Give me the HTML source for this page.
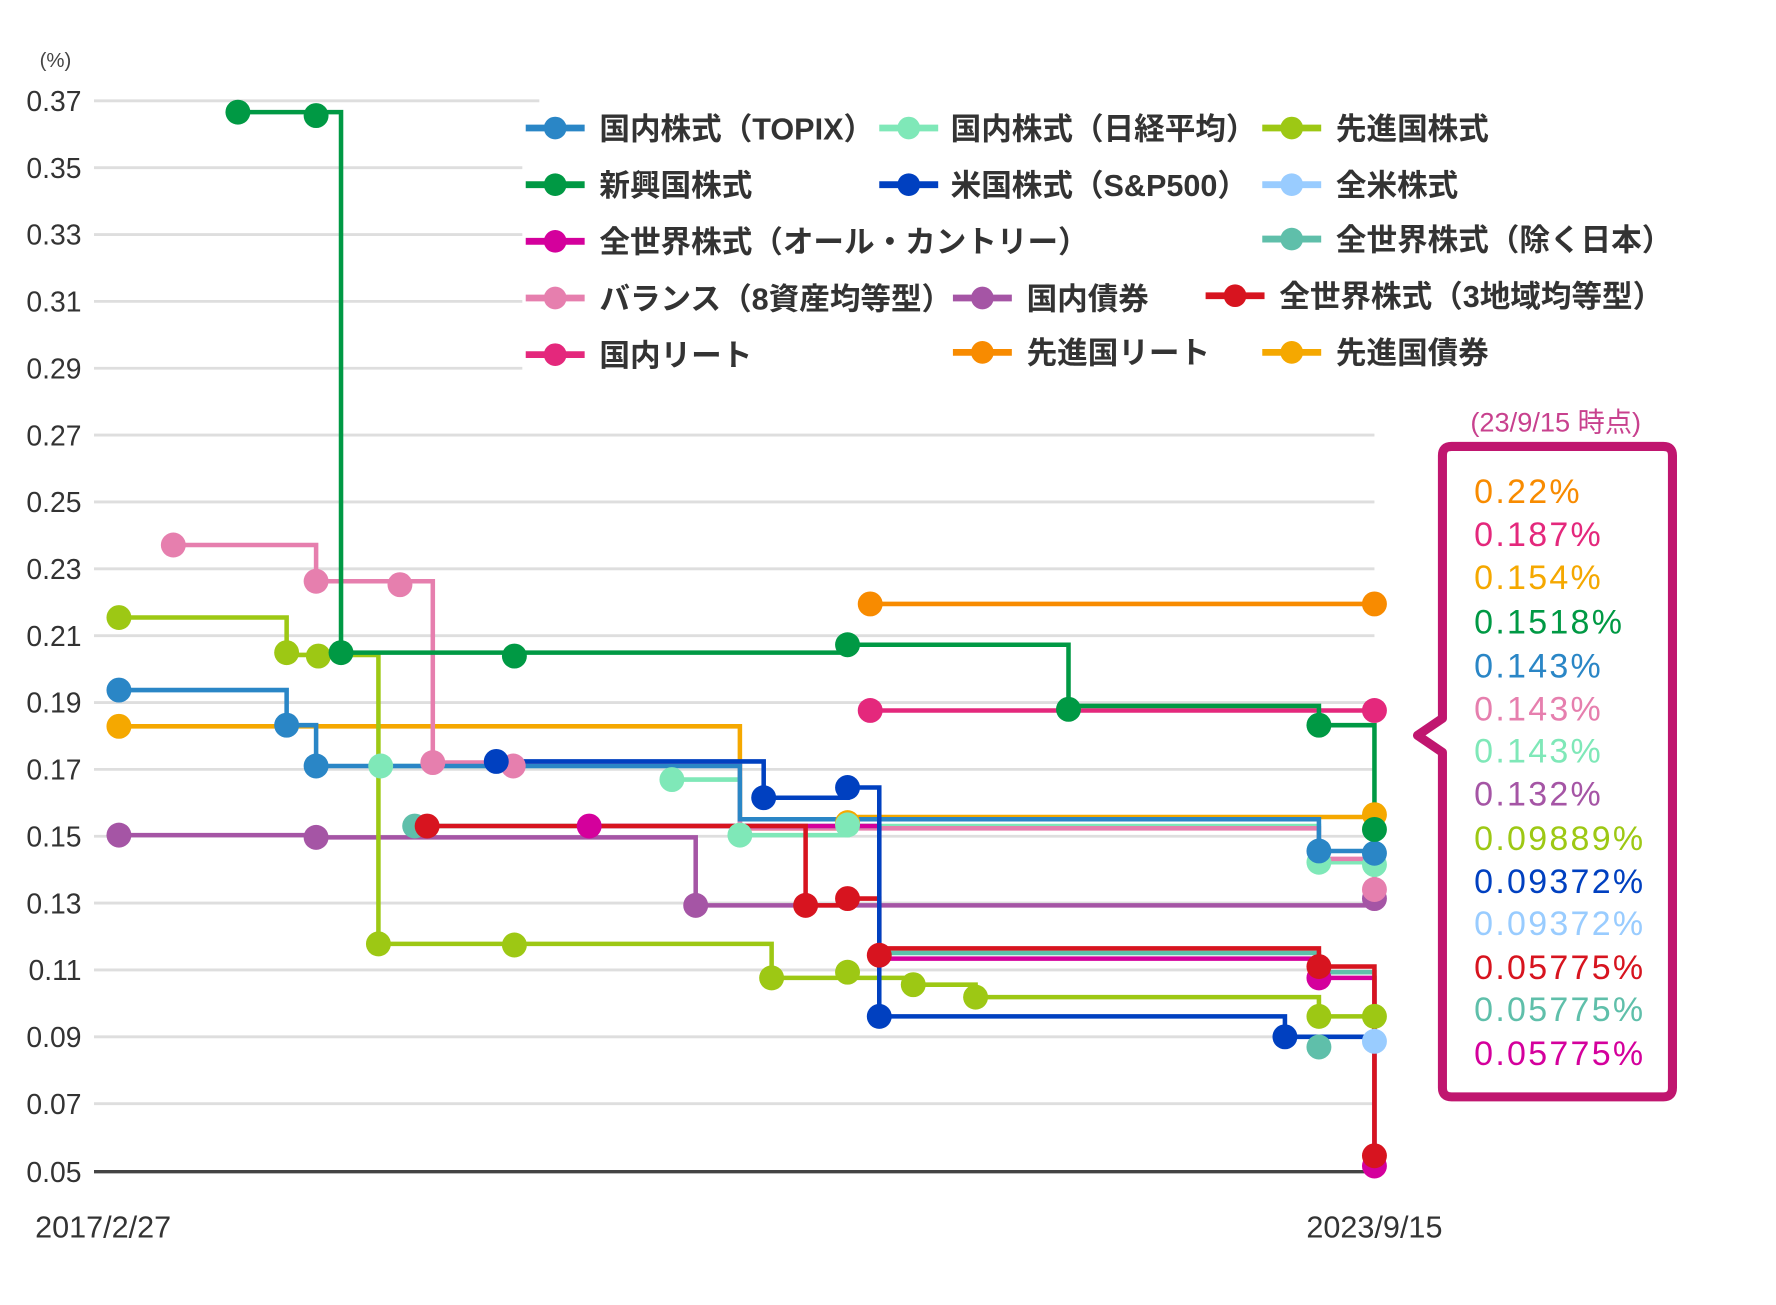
<!DOCTYPE html>
<html><head><meta charset="utf-8"><style>
html,body{margin:0;padding:0;background:#fff;}
svg{display:block;}
text{font-family:"Liberation Sans","Noto Sans CJK JP",sans-serif;}
</style></head><body>
<svg width="1776" height="1305" viewBox="0 0 1550 1139" xmlns="http://www.w3.org/2000/svg">
<rect width="1550" height="1139" fill="#fff"/>
<g transform="translate(82,88) scale(0.989) translate(-82,-88)">
<g stroke="#dedede" stroke-width="2.5">
<line x1="82" y1="88" x2="475" y2="88"/>
<line x1="82" y1="147" x2="460" y2="147"/>
<line x1="82" y1="206" x2="460" y2="206"/>
<line x1="82" y1="265" x2="460" y2="265"/>
<line x1="82" y1="324" x2="460" y2="324"/>
<line x1="82" y1="383" x2="1212" y2="383"/>
<line x1="82" y1="442" x2="1212" y2="442"/>
<line x1="82" y1="501" x2="1212" y2="501"/>
<line x1="82" y1="560" x2="1212" y2="560"/>
<line x1="82" y1="619" x2="1212" y2="619"/>
<line x1="82" y1="678" x2="1212" y2="678"/>
<line x1="82" y1="737" x2="1212" y2="737"/>
<line x1="82" y1="796" x2="1212" y2="796"/>
<line x1="82" y1="855" x2="1212" y2="855"/>
<line x1="82" y1="914" x2="1212" y2="914"/>
<line x1="82" y1="973" x2="1212" y2="973"/>
</g>
<line x1="82" y1="1033" x2="1212" y2="1033" stroke="#444" stroke-width="3"/>
<g fill="#333" font-size="25" text-anchor="end">
<text x="71" y="97">0.37</text><text x="71" y="156">0.35</text><text x="71" y="215">0.33</text>
<text x="71" y="274">0.31</text><text x="71" y="333">0.29</text><text x="71" y="392">0.27</text>
<text x="71" y="451">0.25</text><text x="71" y="510">0.23</text><text x="71" y="569">0.21</text>
<text x="71" y="628">0.19</text><text x="71" y="687">0.17</text><text x="71" y="746">0.15</text>
<text x="71" y="805">0.13</text><text x="71" y="864">0.11</text><text x="71" y="923">0.09</text>
<text x="71" y="982">0.07</text><text x="71" y="1042">0.05</text>
</g>
<text x="34" y="58" font-size="18" fill="#444">(%)</text>
<text x="30" y="1091" font-size="27" fill="#333">2017/2/27</text>
<text x="1212" y="1091" font-size="27" fill="#333" text-anchor="middle">2023/9/15</text>

<g fill="none" stroke-width="4">
<path d="M104,736 H278 V738 H613 V798 H1212 V792" stroke="#a555a5"/>
<path d="M104,640 H652 V730 H747 V720 H1212 V718" stroke="#f5a800"/>
<path d="M335,675 H592 V687 H652 V736 H747 V728 H1163 V760 H1212" stroke="#7fe8b8"/>
<path d="M152,480 H278 V512 H381 V672 H652 V730 H1163 V757 H1212 V784" stroke="#e67fae"/>
<path d="M104,608 H252 V639 H278 V675 H652 V722 H1163 V750 H1212 V752" stroke="#2a86c6"/>
<path d="M104,544 H252 V577 H333 V832 H680 V862 H805 V868 H860 V879 H1163 V896 H1212" stroke="#9dc814"/>
<path d="M365,728 H775 V840 H1163 V857 H1212 V1025" stroke="#5fbfaa"/>
<path d="M519,728 H775 V845 H1163 V862 H1212 V1028" stroke="#d4009c"/>
<path d="M376,728 H710 V798 H747 V792 H775 V836 H1163 V852 H1212 V1019" stroke="#d7141f"/>
<path d="M437,671 H673 V703 H747 V694 H775 V896 H1133 V914 H1212" stroke="#0040c0"/>
<path d="M767,626 H1212" stroke="#e4287c"/>
<path d="M767,532 H1212" stroke="#f88b00"/>
<path d="M209,98 H300 V575 H747 V568 H942 V622 H1163 V639 H1212 V731" stroke="#009944"/>
</g>
<g>
<g fill="#a555a5"><circle cx="104" cy="736" r="11"/><circle cx="278" cy="738" r="11"/><circle cx="613" cy="798" r="11"/><circle cx="1212" cy="792" r="11"/></g>
<g fill="#f5a800"><circle cx="104" cy="640" r="11"/><circle cx="747" cy="725" r="11"/><circle cx="1212" cy="718" r="11"/></g>
<g fill="#7fe8b8"><circle cx="335" cy="675" r="11"/><circle cx="592" cy="687" r="11"/><circle cx="652" cy="736" r="11"/><circle cx="747" cy="727" r="11"/><circle cx="1163" cy="760" r="11"/><circle cx="1212" cy="762" r="11"/></g>
<g fill="#e67fae"><circle cx="152" cy="480" r="11"/><circle cx="278" cy="512" r="11"/><circle cx="352" cy="515" r="11"/><circle cx="381" cy="672" r="11"/><circle cx="452" cy="675" r="11"/><circle cx="1212" cy="784" r="11"/></g>
<g fill="#2a86c6"><circle cx="104" cy="608" r="11"/><circle cx="252" cy="639" r="11"/><circle cx="278" cy="675" r="11"/><circle cx="1163" cy="750" r="11"/><circle cx="1212" cy="752" r="11"/></g>
<g fill="#9dc814"><circle cx="104" cy="544" r="11"/><circle cx="252" cy="575" r="11"/><circle cx="280" cy="578" r="11"/><circle cx="333" cy="832" r="11"/><circle cx="453" cy="833" r="11"/><circle cx="680" cy="862" r="11"/><circle cx="747" cy="857" r="11"/><circle cx="805" cy="868" r="11"/><circle cx="860" cy="879" r="11"/><circle cx="1163" cy="896" r="11"/><circle cx="1212" cy="896" r="11"/></g>
<g fill="#5fbfaa"><circle cx="365" cy="728" r="11"/><circle cx="1163" cy="923" r="11"/></g>
<g fill="#d4009c"><circle cx="519" cy="728" r="11"/><circle cx="1163" cy="862" r="11"/><circle cx="1212" cy="1028" r="11"/></g>
<g fill="#d7141f"><circle cx="376" cy="728" r="11"/><circle cx="710" cy="798" r="11"/><circle cx="747" cy="792" r="11"/><circle cx="775" cy="842" r="11"/><circle cx="1163" cy="852" r="11"/><circle cx="1212" cy="1019" r="11"/></g>
<g fill="#0040c0"><circle cx="437" cy="671" r="11"/><circle cx="673" cy="703" r="11"/><circle cx="747" cy="694" r="11"/><circle cx="775" cy="896" r="11"/><circle cx="1133" cy="914" r="11"/></g>
<circle cx="1212" cy="918" r="11" fill="#99ccff"/>
<g fill="#e4287c"><circle cx="767" cy="626" r="11"/><circle cx="1212" cy="626" r="11"/></g>
<g fill="#f88b00"><circle cx="767" cy="532" r="11"/><circle cx="1212" cy="532" r="11"/></g>
<g fill="#009944"><circle cx="209" cy="98" r="11"/><circle cx="278" cy="101" r="11"/><circle cx="300" cy="575" r="11"/><circle cx="453" cy="578" r="11"/><circle cx="747" cy="568" r="11"/><circle cx="942" cy="625" r="11"/><circle cx="1163" cy="639" r="11"/><circle cx="1212" cy="731" r="11"/></g>
</g>

<!-- legend -->
<g font-size="27" fill="#333" font-weight="bold">
<g stroke-width="6">
<line x1="463" y1="112" x2="515" y2="112" stroke="#2a86c6"/><circle cx="489" cy="112" r="10" fill="#2a86c6"/>
<line x1="775" y1="112" x2="827" y2="112" stroke="#7fe8b8"/><circle cx="801" cy="112" r="10" fill="#7fe8b8"/>
<line x1="1113" y1="112" x2="1165" y2="112" stroke="#9dc814"/><circle cx="1139" cy="112" r="10" fill="#9dc814"/>
<line x1="463" y1="162" x2="515" y2="162" stroke="#009944"/><circle cx="489" cy="162" r="10" fill="#009944"/>
<line x1="775" y1="162" x2="827" y2="162" stroke="#0040c0"/><circle cx="801" cy="162" r="10" fill="#0040c0"/>
<line x1="1113" y1="162" x2="1165" y2="162" stroke="#99ccff"/><circle cx="1139" cy="162" r="10" fill="#99ccff"/>
<line x1="463" y1="212" x2="515" y2="212" stroke="#d4009c"/><circle cx="489" cy="212" r="10" fill="#d4009c"/>
<line x1="1113" y1="210" x2="1165" y2="210" stroke="#5fbfaa"/><circle cx="1139" cy="210" r="10" fill="#5fbfaa"/>
<line x1="463" y1="262" x2="515" y2="262" stroke="#e67fae"/><circle cx="489" cy="262" r="10" fill="#e67fae"/>
<line x1="840" y1="262" x2="892" y2="262" stroke="#a555a5"/><circle cx="866" cy="262" r="10" fill="#a555a5"/>
<line x1="1063" y1="260" x2="1115" y2="260" stroke="#d7141f"/><circle cx="1089" cy="260" r="10" fill="#d7141f"/>
<line x1="463" y1="312" x2="515" y2="312" stroke="#e4287c"/><circle cx="489" cy="312" r="10" fill="#e4287c"/>
<line x1="840" y1="310" x2="892" y2="310" stroke="#f88b00"/><circle cx="866" cy="310" r="10" fill="#f88b00"/>
<line x1="1113" y1="310" x2="1165" y2="310" stroke="#f5a800"/><circle cx="1139" cy="310" r="10" fill="#f5a800"/>
</g>
<text x="528" y="122">国内株式（TOPIX）</text>
<text x="838" y="122">国内株式（日経平均）</text>
<text x="1178" y="122">先進国株式</text>
<text x="528" y="172">新興国株式</text>
<text x="838" y="172">米国株式（S&amp;P500）</text>
<text x="1178" y="172">全米株式</text>
<text x="528" y="222">全世界株式（オール・カントリー）</text>
<text x="1178" y="220">全世界株式（除く日本）</text>
<text x="528" y="272">バランス（8資産均等型）</text>
<text x="905" y="272">国内債券</text>
<text x="1128" y="270">全世界株式（3地域均等型）</text>
<text x="528" y="322">国内リート</text>
<text x="905" y="320">先進国リート</text>
<text x="1178" y="320">先進国債券</text>
</g>

<!-- callout box -->
<text x="1372" y="380" font-size="24" fill="#c8418e" text-anchor="middle">(23/9/15 時点)</text>
<path d="M1280,393 H1467 Q1475,393 1475,401 V959 Q1475,967 1467,967 H1280 Q1272,967 1272,959 V663 L1250,648 L1272,633 V401 Q1272,393 1280,393 Z" fill="#fff" stroke="#c0166f" stroke-width="8" stroke-linejoin="round"/>
<g font-size="30" letter-spacing="2">
<text x="1300" y="443" fill="#f88b00">0.22%</text>
<text x="1300" y="481" fill="#e4287c">0.187%</text>
<text x="1300" y="519" fill="#f5a800">0.154%</text>
<text x="1300" y="558" fill="#009944">0.1518%</text>
<text x="1300" y="597" fill="#2a86c6">0.143%</text>
<text x="1300" y="635" fill="#e67fae">0.143%</text>
<text x="1300" y="672" fill="#7fe8b8">0.143%</text>
<text x="1300" y="710" fill="#a555a5">0.132%</text>
<text x="1300" y="749" fill="#9dc814">0.09889%</text>
<text x="1300" y="787" fill="#0040c0">0.09372%</text>
<text x="1300" y="824" fill="#99ccff">0.09372%</text>
<text x="1300" y="863" fill="#d7141f">0.05775%</text>
<text x="1300" y="900" fill="#5fbfaa">0.05775%</text>
<text x="1300" y="939" fill="#d4009c">0.05775%</text>
</g>
</g>
</svg>
</body></html>
